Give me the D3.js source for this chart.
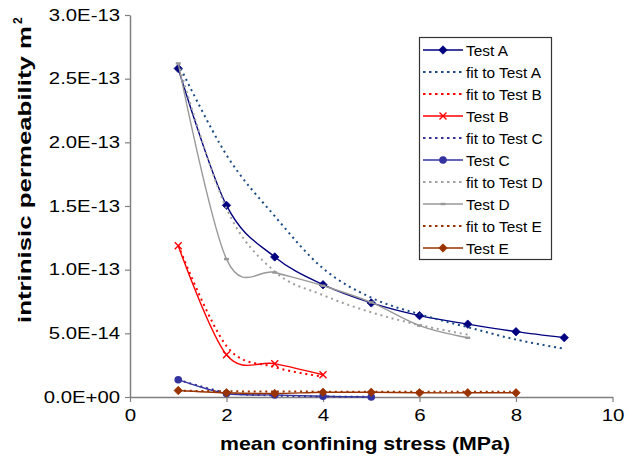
<!DOCTYPE html>
<html>
<head>
<meta charset="utf-8">
<script src="https://cdn.jsdelivr.net/npm/d3@7"></script>
<style>
  html, body { margin: 0; padding: 0; background: #fff; }
  svg { display: block; font-family: "Liberation Sans", Arial, sans-serif; }
</style>
</head>
<body>
<svg id="chart" width="629" height="462"></svg>
<script>
// ---- data (permeability in m^2) ----
const xTicks = [0, 2, 4, 6, 8, 10];
const xTickLabels = ["0", "2", "4", "6", "8", "10"];
const yTicks = [0, 0.5e-13, 1.0e-13, 1.5e-13, 2.0e-13, 2.5e-13, 3.0e-13];
const yTickLabels = ["0.0E+00", "5.0E-14", "1.0E-13", "1.5E-13", "2.0E-13", "2.5E-13", "3.0E-13"];

const testA_x = [1, 2, 3, 4, 5, 6, 7, 8, 9];
const testA_y = [2.58e-13, 1.505e-13, 1.10e-13, 0.882e-13, 0.739e-13, 0.639e-13, 0.572e-13, 0.513e-13, 0.466e-13];
const fitA_x = [1, 2, 3, 4, 5, 6, 7, 8, 9];
const fitA_y = [2.62e-13, 1.90e-13, 1.42e-13, 1.01e-13, 0.78e-13, 0.65e-13, 0.548e-13, 0.451e-13, 0.379e-13];

const testB_x = [1, 2, 3, 4];
const testB_y = [1.187e-13, 0.332e-13, 0.262e-13, 0.175e-13];
const fitB_x = [1, 2, 3, 4];
const fitB_y = [1.19e-13, 0.40e-13, 0.235e-13, 0.16e-13];

const testC_x = [1, 2, 3, 4, 5];
const testC_y = [0.136e-13, 0.027e-13, 0.016e-13, 0.006e-13, 0.0];
const fitC_x = [1, 2, 3, 4, 5];
const fitC_y = [0.136e-13, 0.035e-13, 0.012e-13, 0.004e-13, 0.001e-13];

const testD_x = [1, 2, 3, 4, 5, 6, 7];
const testD_y = [2.62e-13, 1.083e-13, 0.978e-13, 0.874e-13, 0.743e-13, 0.561e-13, 0.465e-13];
const fitD_x = [1, 2, 3, 4, 5, 6, 7];
const fitD_y = [2.62e-13, 1.48e-13, 0.985e-13, 0.80e-13, 0.665e-13, 0.565e-13, 0.49e-13];

const testE_x = [1, 2, 3, 4, 5, 6, 7, 8];
const testE_y = [0.051e-13, 0.033e-13, 0.027e-13, 0.037e-13, 0.037e-13, 0.033e-13, 0.033e-13, 0.033e-13];
const fitE_x = [1, 2, 3, 4, 5, 6, 7, 8];
const fitE_y = [0.05e-13, 0.045e-13, 0.043e-13, 0.042e-13, 0.041e-13, 0.041e-13, 0.041e-13, 0.041e-13];

const seriesNames = ["Test A", "fit to Test A", "fit to Test B", "Test B", "fit to Test C",
                     "Test C", "fit to Test D", "Test D", "fit to Test E", "Test E"];

// ---- series table built from arrays ----
const zip = (xs, ys) => xs.map((x, i) => ({x, y: ys[i]}));
const series = [
  {name: seriesNames[0], data: zip(testA_x, testA_y), color: "#000080", dotted: false, marker: "diamond"},
  {name: seriesNames[1], data: zip(fitA_x, fitA_y), color: "#1a4a85", dotted: true},
  {name: seriesNames[2], data: zip(fitB_x, fitB_y), color: "#ff0000", dotted: true},
  {name: seriesNames[3], data: zip(testB_x, testB_y), color: "#ff0000", dotted: false, marker: "x"},
  {name: seriesNames[4], data: zip(fitC_x, fitC_y), color: "#333399", dotted: true},
  {name: seriesNames[5], data: zip(testC_x, testC_y), color: "#3333a0", dotted: false, marker: "circle"},
  {name: seriesNames[6], data: zip(fitD_x, fitD_y), color: "#a0a0a0", dotted: true},
  {name: seriesNames[7], data: zip(testD_x, testD_y), color: "#999999", dotted: false, marker: "dash"},
  {name: seriesNames[8], data: zip(fitE_x, fitE_y), color: "#993300", dotted: true},
  {name: seriesNames[9], data: zip(testE_x, testE_y), color: "#993300", dotted: false, marker: "diamond"}
];

const svg = d3.select("#chart");
const x = d3.scaleLinear().domain([0, 10]).range([130, 612.5]);
const y = d3.scaleLinear().domain([0, 3e-13]).range([397, 15]);

function stretch(sel, factor) {
  sel.each(function() {
    const w = this.getComputedTextLength();
    d3.select(this).attr("textLength", w * factor).attr("lengthAdjust", "spacingAndGlyphs");
  });
}

// ---- axes ----
const axisColor = "#808080";
const xAxis = d3.axisBottom(x).tickValues(xTicks).tickFormat((d, i) => xTickLabels[i]).tickSize(5).tickSizeOuter(0);
const gx = svg.append("g").attr("transform", `translate(0,${y(0)})`).call(xAxis);
gx.select(".domain").attr("stroke", axisColor).attr("stroke-width", 1.5);
gx.selectAll(".tick line").attr("stroke", axisColor).attr("stroke-width", 1.2);
gx.selectAll(".tick text").attr("font-size", 16).attr("fill", "#000").attr("y", 13)
  .attr("dy", "0.71em").attr("font-family", "Liberation Sans, Arial, sans-serif");
stretch(gx.selectAll(".tick text"), 1.28);

const yAxis = d3.axisLeft(y).tickValues(yTicks).tickFormat((d, i) => yTickLabels[i]).tickSize(5).tickSizeOuter(0);
const gy = svg.append("g").attr("transform", `translate(${x(0)},0)`).call(yAxis);
gy.select(".domain").attr("stroke", axisColor).attr("stroke-width", 1.5);
gy.selectAll(".tick line").attr("stroke", axisColor).attr("stroke-width", 1.2);
gy.selectAll(".tick text").attr("font-size", 16).attr("fill", "#000").attr("x", -10)
  .attr("font-family", "Liberation Sans, Arial, sans-serif");
stretch(gy.selectAll(".tick text"), 1.27);

// ---- titles ----
svg.append("text").attr("x", 365).attr("y", 450).attr("text-anchor", "middle")
  .attr("font-size", 18.5).attr("font-weight", "bold").attr("fill", "#000")
  .attr("textLength", 290).attr("lengthAdjust", "spacingAndGlyphs")
  .text("mean confining stress (MPa)");

const yt = svg.append("g").attr("transform", "translate(31,323) rotate(-90)");
yt.append("text").attr("x", 0).attr("y", 0)
  .attr("font-size", 18.5).attr("font-weight", "bold").attr("fill", "#000")
  .attr("textLength", 297).attr("lengthAdjust", "spacingAndGlyphs")
  .text("intrinisic permeability m");
yt.append("text").attr("x", 299).attr("y", -9)
  .attr("font-size", 12).attr("font-weight", "bold").attr("fill", "#000")
  .text("2");

// ---- markers ----
function drawMarker(g, type, color, cx, cy) {
  if (type === "diamond") {
    g.append("path").attr("d", `M${cx},${cy-4.2}L${cx+4.2},${cy}L${cx},${cy+4.2}L${cx-4.2},${cy}Z`)
      .attr("fill", color).attr("stroke", color).attr("stroke-width", 0.8);
  } else if (type === "x") {
    g.append("path").attr("d", `M${cx-3.5},${cy-3.5}L${cx+3.5},${cy+3.5}M${cx-3.5},${cy+3.5}L${cx+3.5},${cy-3.5}`)
      .attr("stroke", color).attr("stroke-width", 1.4).attr("fill", "none");
  } else if (type === "circle") {
    g.append("circle").attr("cx", cx).attr("cy", cy).attr("r", 3.8).attr("fill", color);
  } else if (type === "dash") {
    g.append("rect").attr("x", cx - 2.5).attr("y", cy - 1.2).attr("width", 5).attr("height", 2.4)
      .attr("fill", color);
  }
}

// ---- lines ----
const line = d3.line().x(d => x(d.x)).y(d => y(d.y)).curve(d3.curveCatmullRom.alpha(0));
const plot = svg.append("g");
series.forEach(s => {
  plot.append("path").datum(s.data).attr("d", line)
    .attr("fill", "none").attr("stroke", s.color)
    .attr("stroke-width", s.dotted ? 2 : 1.4)
    .attr("stroke-dasharray", s.dotted ? "2,3.8" : null);
  if (s.marker) {
    s.data.forEach(d => drawMarker(plot, s.marker, s.color, x(d.x), y(d.y)));
  }
});

// ---- legend ----
const lg = svg.append("g");
lg.append("rect").attr("x", 419.5).attr("y", 37.5).attr("width", 132).attr("height", 222)
  .attr("fill", "#fff").attr("stroke", "#333").attr("stroke-width", 1.2);
series.forEach((s, i) => {
  const cy = 50 + i * 22;
  lg.append("line").attr("x1", 423).attr("x2", 463).attr("y1", cy).attr("y2", cy)
    .attr("stroke", s.color).attr("stroke-width", s.dotted ? 2 : 1.4)
    .attr("stroke-dasharray", s.dotted ? "2.5,3.5" : null);
  if (s.marker) drawMarker(lg, s.marker, s.color, 443, cy);
  lg.append("text").attr("x", 466).attr("y", cy + 5.5).attr("font-size", 15.4)
    .attr("fill", "#000").text(s.name);
});
</script>
</body>
</html>
